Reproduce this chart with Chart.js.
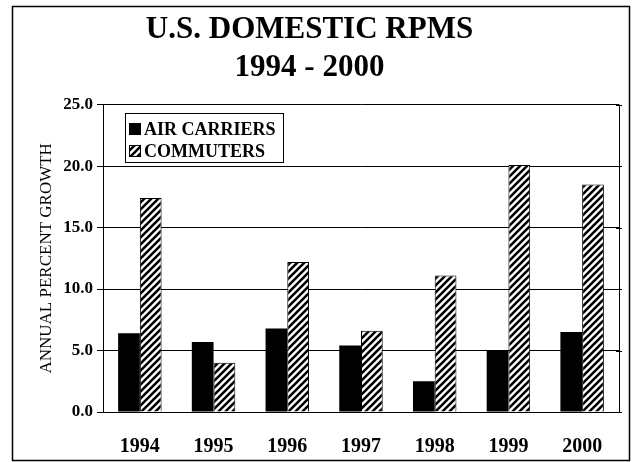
<!DOCTYPE html>
<html>
<head>
<meta charset="utf-8">
<script src="https://cdn.jsdelivr.net/npm/chart.js@4"></script>
<style>
  html, body { margin: 0; padding: 0; background: #fff; }
  #wrap { width: 632px; height: 462px; }
</style>
</head>
<body>
<div id="wrap"><canvas id="rpms" width="632" height="462"></canvas></div>
<script>
const years = ['1994', '1995', '1996', '1997', '1998', '1999', '2000'];
const airCarriers = [6.4, 5.7, 6.8, 5.4, 2.5, 5.0, 6.5];
const commuters = [17.4, 4.0, 12.2, 6.6, 11.1, 20.1, 18.5];
const yTicks = [0, 5, 10, 15, 20, 25];

const serif = '"Liberation Serif", "DejaVu Serif", serif';

// diagonal "/" hatch used for commuters
function makeHatch() {
  const c = document.createElement('canvas');
  c.width = 7; c.height = 7;
  const g = c.getContext('2d');
  g.fillStyle = '#fff';
  g.fillRect(0, 0, 7, 7);
  g.strokeStyle = '#000';
  g.lineWidth = 2.6;
  g.beginPath();
  g.moveTo(-1, 8); g.lineTo(8, -1);
  g.moveTo(-4, 4); g.lineTo(4, -4);
  g.moveTo(3, 11); g.lineTo(11, 3);
  g.stroke();
  return g.createPattern(c, 'repeat');
}
const hatch = makeHatch();

// page frame + right edge of plot
const framePlugin = {
  id: 'frame',
  beforeDraw(chart) {
    const ctx = chart.ctx;
    ctx.save();
    ctx.fillStyle = '#fff';
    ctx.fillRect(0, 0, chart.width, chart.height);
    ctx.strokeStyle = '#000';
    ctx.lineWidth = 1.5;
    ctx.strokeRect(12.5, 6.5, 617, 454);
    ctx.restore();
  },
  afterDraw(chart) {
    const a = chart.chartArea;
    const ctx = chart.ctx;
    const y = chart.scales.y;
    ctx.save();
    ctx.strokeStyle = '#000';
    ctx.lineWidth = 1;
    ctx.beginPath();
    ctx.moveTo(Math.round(a.right) + 0.5, a.top);
    ctx.lineTo(Math.round(a.right) + 0.5, a.bottom);
    // small tick marks on the right edge
    yTicks.forEach(v => {
      const py = Math.round(y.getPixelForValue(v)) + 0.5;
      ctx.moveTo(a.right - 3, py);
      ctx.lineTo(a.right + 3, py);
    });
    ctx.stroke();
    ctx.restore();
  }
};

// legend box sitting inside the plot, top left
const boxLegend = {
  id: 'boxLegend',
  afterDatasetsDraw(chart) {
    const ctx = chart.ctx;
    const x = 125, y = 113, w = 158, h = 49;
    ctx.save();
    ctx.fillStyle = '#fff';
    ctx.fillRect(x, y, w, h);
    ctx.strokeStyle = '#000';
    ctx.lineWidth = 1;
    ctx.strokeRect(x + 0.5, y + 0.5, w, h);
    ctx.font = 'bold 18px ' + serif;
    ctx.textBaseline = 'middle';
    chart.data.datasets.forEach((ds, i) => {
      const cy = y + 16 + i * 22;
      ctx.fillStyle = ds.backgroundColor;
      ctx.fillRect(x + 4, cy - 6, 12, 12);
      ctx.strokeStyle = '#000';
      ctx.strokeRect(x + 4.5, cy - 5.5, 11, 11);
      ctx.fillStyle = '#000';
      ctx.fillText(ds.label, x + 19, cy + 1);
    });
    ctx.restore();
  }
};

new Chart(document.getElementById('rpms'), {
  type: 'bar',
  data: {
    labels: years,
    datasets: [{
      label: 'AIR CARRIERS',
      data: airCarriers,
      backgroundColor: '#000',
      borderColor: '#000',
      borderWidth: 0
    }, {
      label: 'COMMUTERS',
      data: commuters,
      backgroundColor: hatch,
      borderColor: '#000',
      borderWidth: 1
    }]
  },
  options: {
    responsive: false,
    animation: false,
    devicePixelRatio: 1,
    layout: { padding: { top: 0, right: 13, bottom: 0, left: 0 } },
    datasets: { bar: { categoryPercentage: 0.59, barPercentage: 1 } },
    plugins: {
      legend: { display: false },
      tooltip: { enabled: false },
      title: {
        display: true,
        text: ['U.S. DOMESTIC RPMS', '1994 - 2000'],
        color: '#000',
        font: { family: serif, size: 31, weight: 'bold', lineHeight: 1.22 },
        padding: { top: 11, bottom: 18 }
      }
    },
    scales: {
      x: {
        grid: { display: false },
        border: { color: '#000', width: 1 },
        ticks: { color: '#000', font: { family: serif, size: 20, weight: 'bold' }, padding: 15 },
        afterFit(s) { s.height = 50; }
      },
      y: {
        min: 0,
        max: 25,
        afterBuildTicks(s) { s.ticks = yTicks.map(v => ({ value: v })); },
        ticks: {
          color: '#000',
          font: { family: serif, size: 17, weight: 'bold' },
          padding: 4,
          callback: v => v.toFixed(1)
        },
        grid: { color: '#000', lineWidth: 1, tickLength: 6 },
        border: { color: '#000', width: 1 },
        title: {
          display: true,
          text: 'ANNUAL PERCENT GROWTH',
          color: '#000',
          font: { family: serif, size: 17 },
          padding: { top: 36, bottom: 0 }
        },
        afterFit(s) { s.width = 103; }
      }
    }
  },
  plugins: [framePlugin, boxLegend]
});
</script>
</body>
</html>
